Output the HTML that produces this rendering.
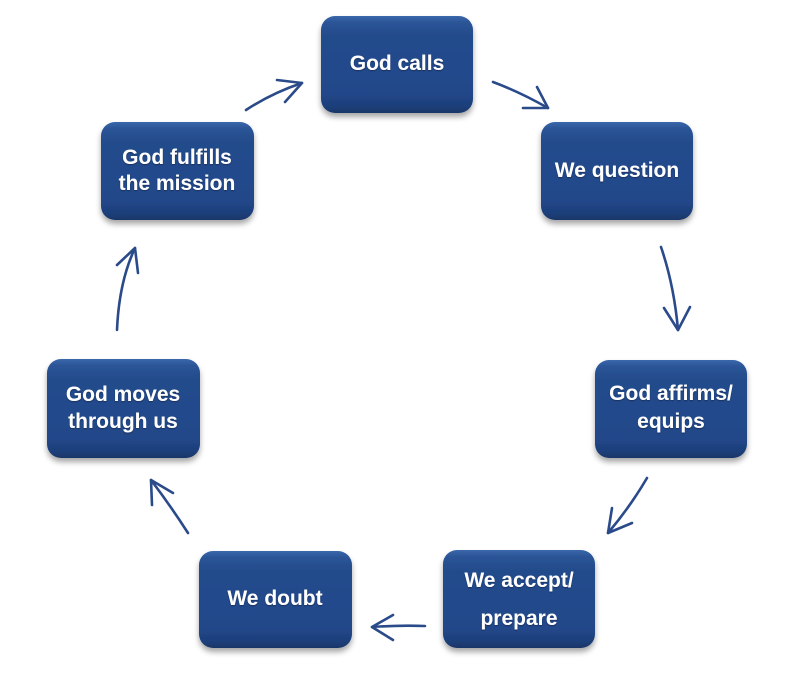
<!DOCTYPE html>
<html>
<head>
<meta charset="utf-8">
<style>
  html, body { margin:0; padding:0; background:#ffffff; }
  svg { display:block; }
  .t { font-family:"Liberation Sans", Arial, sans-serif; font-weight:bold; font-size:21px; fill:#ffffff; text-anchor:middle; }
  .a { fill:none; stroke:#2a4a8a; stroke-width:2.6; stroke-linecap:round; stroke-linejoin:round; }
</style>
</head>
<body>
<svg width="791" height="675" viewBox="0 0 791 675" xmlns="http://www.w3.org/2000/svg">
  <defs>
    <linearGradient id="g" x1="0" y1="0" x2="0" y2="1">
      <stop offset="0" stop-color="#3a68ab"/>
      <stop offset="0.07" stop-color="#2a5496"/>
      <stop offset="0.2" stop-color="#244c8c"/>
      <stop offset="0.8" stop-color="#22478a"/>
      <stop offset="0.93" stop-color="#1d3f7a"/>
      <stop offset="1" stop-color="#193668"/>
    </linearGradient>
    <filter id="sh" x="-10%" y="-10%" width="120%" height="130%">
      <feDropShadow dx="0" dy="4" stdDeviation="3" flood-color="#000" flood-opacity="0.35"/>
    </filter>
    <filter id="ts" x="-10%" y="-20%" width="120%" height="140%">
      <feDropShadow dx="0" dy="1" stdDeviation="0.6" flood-color="#0a1a3a" flood-opacity="0.6"/>
    </filter>
  </defs>

  <!-- Boxes -->
  <g filter="url(#sh)">
    <rect x="321" y="16" width="152" height="97" rx="14" fill="url(#g)"/>
    <rect x="541" y="122" width="152" height="98" rx="14" fill="url(#g)"/>
    <rect x="595" y="360" width="152" height="98" rx="14" fill="url(#g)"/>
    <rect x="443" y="550" width="152" height="98" rx="14" fill="url(#g)"/>
    <rect x="199" y="551" width="153" height="97" rx="14" fill="url(#g)"/>
    <rect x="47" y="359" width="153" height="99" rx="14" fill="url(#g)"/>
    <rect x="101" y="122" width="153" height="98" rx="14" fill="url(#g)"/>
  </g>

  <!-- Labels -->
  <g filter="url(#ts)">
    <text class="t" x="397" y="70">God calls</text>
    <text class="t" x="617" y="177">We question</text>
    <text class="t" x="671" y="400">God affirms/</text>
    <text class="t" x="671" y="428">equips</text>
    <text class="t" x="519" y="587">We accept/</text>
    <text class="t" x="519" y="625">prepare</text>
    <text class="t" x="275" y="605">We doubt</text>
    <text class="t" x="123" y="401">God moves</text>
    <text class="t" x="123" y="428">through us</text>
    <text class="t" x="177" y="164">God fulfills</text>
    <text class="t" x="177" y="190">the mission</text>
  </g>

  <!-- Arrows -->
  <path class="a" d="M493,82 Q520,92 548,108"/>
  <path class="a" d="M523,108 L548,108 L537,87"/>

  <path class="a" d="M661,247 Q674,285 678,330"/>
  <path class="a" d="M664,308 L678,330 L690,307"/>

  <path class="a" d="M647,478 Q630,507 608,533"/>
  <path class="a" d="M612,508 L608,533 L632,523"/>

  <path class="a" d="M425,626 Q400,625 372,627"/>
  <path class="a" d="M393,615 L372,627 L393,640"/>

  <path class="a" d="M188,533 Q170,505 151,480"/>
  <path class="a" d="M152,505 L151,480 L173,493"/>

  <path class="a" d="M117,330 Q119,282 135,248"/>
  <path class="a" d="M117,265 L135,248 L138,273"/>

  <path class="a" d="M246,110 Q272,93 302,83"/>
  <path class="a" d="M277,80 L302,83 L285,102"/>
</svg>
</body>
</html>
